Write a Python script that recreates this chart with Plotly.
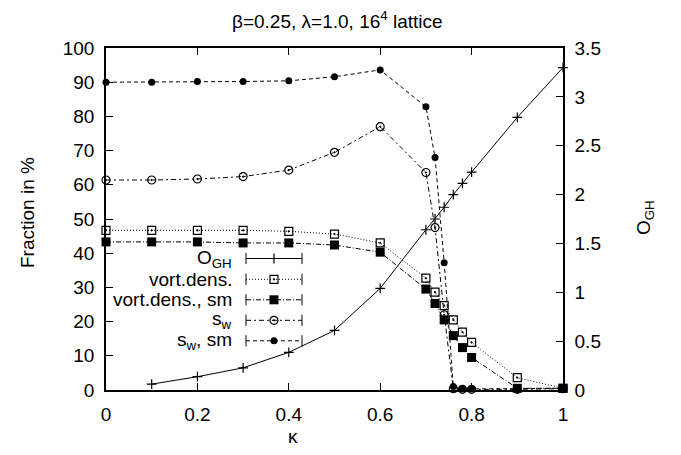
import plotly.graph_objects as go

# ---- data ----
kappa = [0.0, 0.1, 0.2, 0.3, 0.4, 0.5, 0.6, 0.7, 0.72, 0.74, 0.76, 0.78, 0.8, 0.9, 1.0]
vort_dens = [46.7, 46.7, 46.7, 46.7, 46.4, 45.6, 43.0, 32.7, 28.6, 24.7, 20.5, 16.9, 13.9, 3.6, 0.5]
vort_dens_sm = [43.3, 43.3, 43.3, 43.0, 43.0, 42.4, 40.3, 29.5, 25.3, 20.5, 15.9, 12.4, 9.5, 0.5, 0.5]
s_w = [61.4, 61.4, 61.7, 62.4, 64.3, 69.5, 77.0, 63.6, 47.5, 22.0, 0.4, 0.2, 0.2, 0.2, 0.4]
s_w_sm = [90.0, 90.0, 90.2, 90.2, 90.4, 91.6, 93.6, 82.8, 68.0, 37.2, 1.0, 0.3, 0.3, 0.3, 0.5]

kappa_ogh = [0.1, 0.2, 0.3, 0.4, 0.5, 0.6, 0.7, 0.72, 0.74, 0.76, 0.78, 0.8, 0.9, 1.0]
o_gh = [0.06, 0.136, 0.227, 0.385, 0.61, 1.04, 1.64, 1.75, 1.87, 2.0, 2.115, 2.23, 2.79, 3.30]

legend_labels = ["O<sub>GH</sub>", "vort.dens.", "vort.dens., sm", "s<sub>w</sub>", "s<sub>w</sub>, sm"]

FONT = "Liberation Sans, Arial, sans-serif"
FS = 19

W, H = 681, 455
L, R, T, B = 106, 563, 48, 390

styles = [
    dict(line=dict(color="black", width=1), marker=dict(symbol="cross-thin", size=7, color="black", line=dict(color="black", width=1.2))),
    dict(line=dict(color="black", width=1, dash="1px,2px"), marker=dict(symbol="square-open-dot", size=8, color="black", line=dict(color="black", width=1.2))),
    dict(line=dict(color="black", width=1, dash="5px,2px,1px,2px"), marker=dict(symbol="square", size=9, color="black")),
    dict(line=dict(color="black", width=1, dash="5px,3px,2px,3px"), marker=dict(symbol="circle-open-dot", size=8, color="black", line=dict(color="black", width=1.2))),
    dict(line=dict(color="black", width=1, dash="4px,3px"), marker=dict(symbol="circle", size=7, color="black")),
]

fig = go.Figure()

series = [
    (kappa_ogh, o_gh, "y2"),
    (kappa, vort_dens, "y"),
    (kappa, vort_dens_sm, "y"),
    (kappa, s_w, "y"),
    (kappa, s_w_sm, "y"),
]
for (xs, ys, yax), st in zip(series, styles):
    fig.add_trace(go.Scatter(x=xs, y=ys, yaxis=yax, mode="lines+markers",
                             line=st["line"], marker=st["marker"], showlegend=False,
                             cliponaxis=False))

# ---- custom gnuplot-style key (text right-aligned, sample to the right) ----
def px2x(px):
    return (px - L) / (R - L)

def py2y(py):
    return (B - py) / (B - T)

rows_py = [258.5, 279.3, 299.8, 320.3, 340.8]
x_text = px2x(234)
xa, xm, xb = px2x(246), px2x(274), px2x(302)
for lab, py, st in zip(legend_labels, rows_py, styles):
    yy = py2y(py)
    fig.add_annotation(x=x_text, y=yy, xref="paper", yref="paper", text=lab,
                       showarrow=False, xanchor="right", yanchor="middle",
                       font=dict(family=FONT, size=FS, color="black"))
    fig.add_trace(go.Scatter(x=[xa, xb], y=[yy, yy], xaxis="x3", yaxis="y3", mode="lines",
                             line=st["line"], showlegend=False, hoverinfo="skip"))
    fig.add_trace(go.Scatter(x=[xa, xb], y=[yy, yy], xaxis="x3", yaxis="y3", mode="markers",
                             marker=dict(symbol="line-ns", size=8, line=dict(color="black", width=1)),
                             showlegend=False, hoverinfo="skip"))
    fig.add_trace(go.Scatter(x=[xm], y=[yy], xaxis="x3", yaxis="y3", mode="markers",
                             marker=st["marker"], showlegend=False, hoverinfo="skip"))

def ann_px(text, px, py, angle=0):
    fig.add_annotation(x=px2x(px), y=py2y(py), xref="paper", yref="paper", text=text,
                       showarrow=False, textangle=angle, xanchor="center", yanchor="middle",
                       font=dict(family=FONT, size=FS, color="black"))

ann_px("Fraction in %", 28, 213, -90)
ann_px("O<sub>GH</sub>", 645, 218, -90)
ann_px("κ", 293, 437)
ann_px("β=0.25, λ=1.0, 16<sup>4</sup> lattice", 337, 20)

axis_common = dict(showgrid=False, zeroline=False, showline=True, linecolor="black", linewidth=1.5,
                   ticks="inside", ticklen=7, tickwidth=1, tickcolor="black",
                   tickfont=dict(family=FONT, size=FS, color="black"))

fig.update_layout(
    width=W, height=H,
    margin=dict(l=L, r=W - R, t=T, b=H - B, pad=0),
    paper_bgcolor="white", plot_bgcolor="white",
    xaxis=dict(range=[0, 1], dtick=0.2, tick0=0, mirror="ticks", ticklabelstandoff=6, **axis_common),
    yaxis=dict(range=[0, 100], dtick=10, tick0=0, mirror=True, ticklabelstandoff=6, **axis_common),
    yaxis2=dict(range=[0, 3.5], dtick=0.5, tick0=0, overlaying="y", side="right", ticklabelstandoff=6,
                **axis_common),
    xaxis3=dict(range=[0, 1], overlaying="x", visible=False, fixedrange=True),
    yaxis3=dict(range=[0, 1], overlaying="y", visible=False, fixedrange=True),
    showlegend=False,
)

fig.write_html("out.html")
